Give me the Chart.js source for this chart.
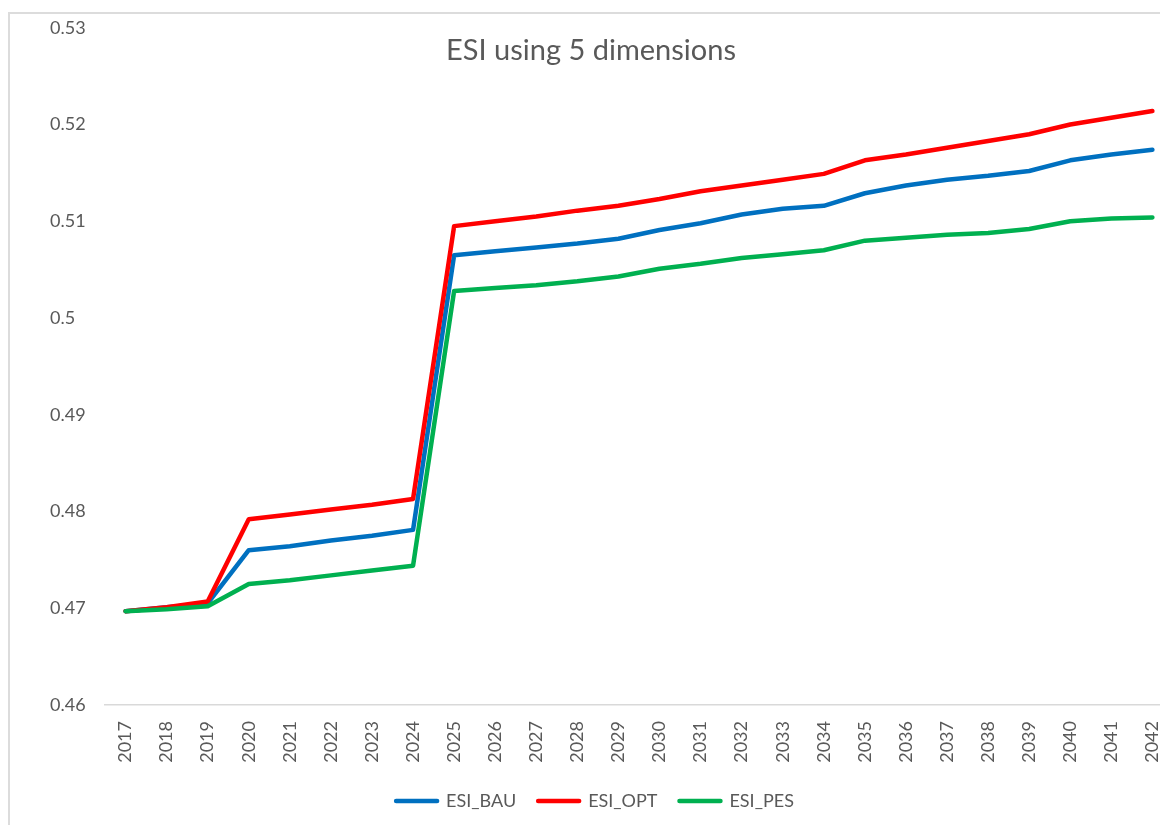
<!DOCTYPE html>
<html>
<head>
<meta charset="utf-8">
<script src="https://cdn.jsdelivr.net/npm/chart.js@4/dist/chart.umd.min.js"></script>
<style>
  html, body { margin: 0; padding: 0; background: #fff; overflow: hidden; }
  .frame {
    position: absolute;
    left: 8px;
    top: 12px;
    border: 2px solid #dcdcdc;
  }
  canvas { display: block; }
</style>
</head>
<body>
<div class="frame">
  <canvas id="esiChart" width="1172" height="817"></canvas>
</div>
<script>
const chartTitle = "ESI using 5 dimensions";

const years = [
  "2017", "2018", "2019", "2020", "2021", "2022", "2023", "2024", "2025",
  "2026", "2027", "2028", "2029", "2030", "2031", "2032", "2033", "2034",
  "2035", "2036", "2037", "2038", "2039", "2040", "2041", "2042"
];

const esiBau = [
  0.4697, 0.4701, 0.4705, 0.4760, 0.4764, 0.4770, 0.4775, 0.4781, 0.5065,
  0.5069, 0.5073, 0.5077, 0.5082, 0.5091, 0.5098, 0.5107, 0.5113, 0.5116,
  0.5129, 0.5137, 0.5143, 0.5147, 0.5152, 0.5163, 0.5169, 0.5174
];

const esiOpt = [
  0.4697, 0.4701, 0.4707, 0.4792, 0.4797, 0.4802, 0.4807, 0.4813, 0.5095,
  0.5100, 0.5105, 0.5111, 0.5116, 0.5123, 0.5131, 0.5137, 0.5143, 0.5149,
  0.5163, 0.5169, 0.5176, 0.5183, 0.5190, 0.5200, 0.5207, 0.5214
];

const esiPes = [
  0.4697, 0.4699, 0.4702, 0.4725, 0.4729, 0.4734, 0.4739, 0.4744, 0.5028,
  0.5031, 0.5034, 0.5038, 0.5043, 0.5051, 0.5056, 0.5062, 0.5066, 0.5070,
  0.5080, 0.5083, 0.5086, 0.5088, 0.5092, 0.5100, 0.5103, 0.5104
];

const yMin = 0.46;
const yMax = 0.53;
const yStep = 0.01;

const textColor = "#595959";
const fontFamily = "Lato, 'Liberation Sans', sans-serif";

// Excel-style title drawn over the plot area (does not take layout space)
const overlayTitle = {
  id: "overlayTitle",
  afterDraw(chart) {
    const ctx = chart.ctx;
    ctx.save();
    ctx.font = "29px " + fontFamily;
    ctx.fillStyle = textColor;
    ctx.textAlign = "center";
    ctx.textBaseline = "middle";
    ctx.fillText(chartTitle, 581, 37);
    ctx.restore();
  },
};

// the original chart box is centred a bit left of this canvas, nudge the legend
const legendNudge = {
  id: "legendNudge",
  afterLayout(chart) {
    chart.legend.left -= 21;
    chart.legend.right -= 21;
  },
};

const makeSeries = (label, data, color, order) => ({
  label: label,
  data: data,
  borderColor: color,
  backgroundColor: color,
  borderWidth: 4.5,
  borderCapStyle: "round",
  borderJoinStyle: "round",
  pointRadius: 0,
  tension: 0,
  fill: false,
  order: order,
});

new Chart(document.getElementById("esiChart"), {
  type: "line",
  data: {
    labels: years,
    datasets: [
      makeSeries("ESI_BAU", esiBau, "#0070C0", 3),
      makeSeries("ESI_OPT", esiOpt, "#FF0000", 2),
      makeSeries("ESI_PES", esiPes, "#00B050", 1),
    ],
  },
  options: {
    responsive: false,
    animation: false,
    devicePixelRatio: 1,
    layout: {
      padding: { left: 40, top: 13, right: 0, bottom: 11 },
    },
    plugins: {
      title: { display: false },
      tooltip: { enabled: false },
      legend: {
        position: "bottom",
        labels: {
          color: textColor,
          font: { family: fontFamily, size: 18 },
          boxWidth: 41,
          boxHeight: 0,
          padding: 22,
          sort: (a, b) => a.datasetIndex - b.datasetIndex,
        },
      },
    },
    scales: {
      x: {
        offset: true,
        grid: { display: false },
        border: { display: true, color: "#d9d9d9", width: 1.5 },
        ticks: {
          color: textColor,
          font: { family: fontFamily, size: 18 },
          minRotation: 90,
          maxRotation: 90,
          autoSkip: false,
          padding: 8,
        },
        afterFit: (scale) => {
          scale.height = 65;
        },
      },
      y: {
        min: yMin,
        max: yMax,
        grid: { display: false },
        border: { display: false },
        ticks: {
          stepSize: yStep,
          color: textColor,
          font: { family: fontFamily, size: 18 },
          crossAlign: "far",
          callback: function (value) {
            return parseFloat(value.toFixed(2)).toString();
          },
        },
        afterFit: (scale) => {
          scale.width = 55;
        },
      },
    },
  },
  plugins: [overlayTitle, legendNudge],
});
</script>
</body>
</html>
